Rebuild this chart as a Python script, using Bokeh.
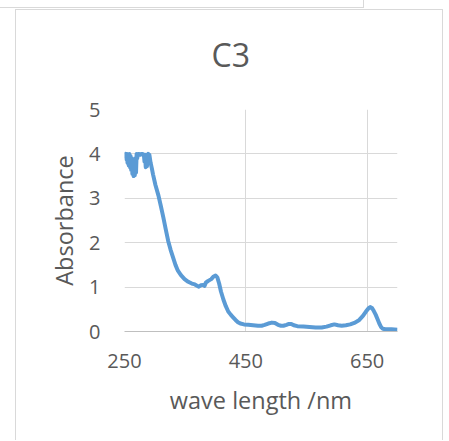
from bokeh.plotting import figure
from bokeh.models import FixedTicker, Div, Title
from bokeh.layouts import column
from bokeh.embed import file_html
from bokeh.resources import INLINE

# Absorption spectrum of sample C3
wavelength = [250, 251, 252, 253, 254, 255, 256, 257, 258, 259, 260, 261, 262, 263, 264,
              265, 266, 267, 268, 269, 270, 271, 272, 274, 276, 278, 280, 282, 283, 284,
              285, 286, 287, 288, 289, 291, 293, 295, 297, 301, 306, 310, 314, 318, 322,
              326, 330, 334, 338, 343, 349, 355, 361, 366, 372, 376, 380, 382, 384, 388,
              393, 397, 400, 403, 406, 409, 413, 417, 421, 425, 429, 433, 437, 441, 447,
              454, 462, 470, 476, 481, 487, 493, 498, 503, 508, 512, 517, 521, 525, 529,
              535, 545, 555, 565, 575, 583, 590, 596, 602, 608, 615, 622, 630, 637, 643,
              648, 652, 655, 658, 661, 664, 667, 670, 673, 676, 680, 690, 700]
absorbance = [4.0, 3.95, 4.0, 3.88, 4.0, 3.8, 3.98, 3.74, 4.0, 3.7, 3.95, 3.64, 3.9, 3.55, 3.85,
              3.5, 3.8, 3.52, 3.9, 3.58, 4.0, 3.9, 4.0, 4.0, 3.98, 4.0, 4.0, 3.97, 3.82, 3.98,
              3.7, 3.95, 3.72, 3.98, 4.0, 3.98, 3.8, 3.68, 3.54, 3.3, 3.06, 2.82, 2.57, 2.3, 2.04,
              1.84, 1.67, 1.5, 1.37, 1.27, 1.18, 1.12, 1.08, 1.06, 1.01, 1.04, 1.05, 1.03, 1.1, 1.14,
              1.18, 1.24, 1.26, 1.22, 1.08, 0.9, 0.72, 0.57, 0.45, 0.38, 0.32, 0.26, 0.21, 0.18, 0.16,
              0.15, 0.14, 0.13, 0.13, 0.15, 0.18, 0.2, 0.19, 0.15, 0.13, 0.13, 0.15, 0.17, 0.17, 0.14,
              0.12, 0.11, 0.1, 0.09, 0.09, 0.11, 0.14, 0.16, 0.14, 0.13, 0.14, 0.16, 0.2, 0.26, 0.35,
              0.45, 0.52, 0.55, 0.53, 0.46, 0.38, 0.28, 0.18, 0.1, 0.06, 0.05, 0.05, 0.04]

x_ticks = [250, 450, 650]
y_ticks = [0, 1, 2, 3, 4, 5]

FONT = "Open Sans"
TEXT = "#595959"
GRID = "#d9d9d9"

p = figure(width=428, height=431, x_range=(250, 700), y_range=(0, 5),
           output_backend="svg", toolbar_location=None, title="C3",
           min_border_left=108, min_border_right=47, min_border_top=99,
           min_border_bottom=110, margin=(1, 0, 0, 15),
           styles={"border-left": f"1px solid {GRID}", "border-right": f"1px solid {GRID}",
                   "border-top": f"1px solid {GRID}"})

p.line(wavelength, absorbance, line_color="#5B9BD5", line_width=4, line_join="round")

# title centred over the whole chart area rather than the plot frame
p.title.align = "left"
p.title.offset = 87
p.title.vertical_align = "bottom"
p.title.text_font = FONT
p.title.text_font_size = "32px"
p.title.text_font_style = "normal"
p.title.text_color = TEXT
p.title.standoff = 0

# blank gap between the title and the plot frame
p.add_layout(Title(text=" ", text_font_size="1px", standoff=31), "above")

p.outline_line_color = None
p.background_fill_color = "white"
p.border_fill_color = "white"

p.xaxis.ticker = FixedTicker(ticks=x_ticks)
p.yaxis.ticker = FixedTicker(ticks=y_ticks)
for ax in (p.xaxis, p.yaxis):
    ax.major_tick_line_color = None
    ax.minor_tick_line_color = None
    ax.major_label_text_font = FONT
    ax.major_label_text_font_size = "20px"
    ax.major_label_text_color = TEXT
    ax.axis_label_text_font = FONT
    ax.axis_label_text_font_size = "23.5px"
    ax.axis_label_text_font_style = "normal"
    ax.axis_label_text_color = TEXT

p.xaxis.axis_line_color = "#bfbfbf"
p.yaxis.axis_line_color = None
p.xaxis.major_label_standoff = 16
p.yaxis.major_label_standoff = 18
p.xaxis.axis_label = "wave length /nm"
p.yaxis.axis_label = "Absorbance"
p.xaxis.axis_label_standoff = 13
p.yaxis.axis_label_standoff = 6

p.xgrid.ticker = FixedTicker(ticks=x_ticks)
p.ygrid.ticker = FixedTicker(ticks=y_ticks)
p.grid.grid_line_color = GRID
p.grid.grid_line_width = 1

# edge of the neighbouring panel above
top = Div(text="", width=364, height=8, margin=(0, 0, 0, 0),
          styles={"border-right": f"1px solid {GRID}", "border-bottom": f"1px solid {GRID}",
                  "box-sizing": "border-box"})

layout = column(top, p, spacing=0)

open("out.html", "w").write(file_html(layout, INLINE))
